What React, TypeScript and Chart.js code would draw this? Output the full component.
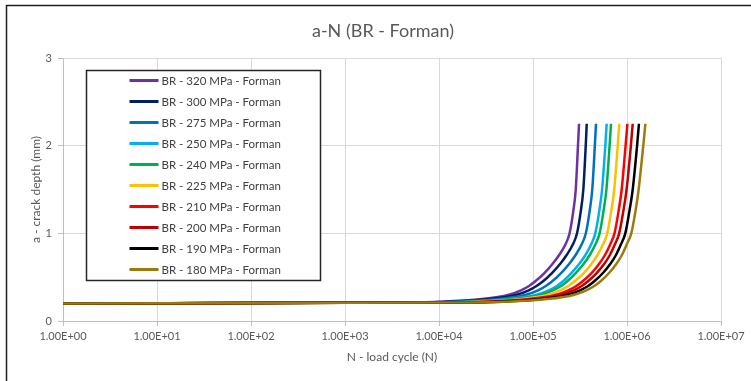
import { useEffect, useRef } from "react";
import { Chart, registerables } from "chart.js";

Chart.register(...registerables);

// Crack depth a (mm) shared by every series
const crackDepth = [0.2, 0.21, 0.22, 0.25, 0.3, 0.35, 0.4, 0.45, 0.55, 0.65, 0.75, 0.875, 1.0, 1.25, 1.5, 2.0, 2.25];

// Load cycles N reached at each crack depth, one list per stress level
const cycles320 = [1, 2.3e3, 1.0e4, 2.87e4, 5.56e4, 7.45e4, 9.07e4, 1.05e5, 1.33e5, 1.61e5, 1.89e5, 2.22e5, 2.45e5, 2.68e5, 2.85e5, 3.01e5, 3.09e5];
const cycles300 = [1, 2.78e3, 1.21e4, 3.46e4, 6.71e4, 9.0e4, 1.09e5, 1.27e5, 1.6e5, 1.94e5, 2.27e5, 2.66e5, 2.94e5, 3.22e5, 3.43e5, 3.64e5, 3.73e5];
const cycles275 = [1, 3.49e3, 1.52e4, 4.35e4, 8.42e4, 1.13e5, 1.37e5, 1.59e5, 2.0e5, 2.42e5, 2.83e5, 3.3e5, 3.65e5, 4.0e5, 4.27e5, 4.55e5, 4.68e5];
const cycles250 = [1, 4.53e3, 1.97e4, 5.65e4, 1.09e5, 1.47e5, 1.79e5, 2.07e5, 2.57e5, 3.1e5, 3.6e5, 4.16e5, 4.6e5, 5.06e5, 5.43e5, 5.88e5, 6.08e5];
const cycles240 = [1, 5.04e3, 2.19e4, 6.28e4, 1.22e5, 1.63e5, 1.99e5, 2.3e5, 2.86e5, 3.45e5, 4.0e5, 4.62e5, 5.11e5, 5.62e5, 6.04e5, 6.53e5, 6.76e5];
const cycles225 = [1, 6.02e3, 2.62e4, 7.51e4, 1.45e5, 1.95e5, 2.37e5, 2.75e5, 3.49e5, 4.18e5, 4.84e5, 5.56e5, 6.16e5, 6.79e5, 7.31e5, 7.97e5, 8.28e5];
const cycles210 = [1, 7.33e3, 3.19e4, 9.13e4, 1.77e5, 2.37e5, 2.89e5, 3.35e5, 4.22e5, 5.04e5, 5.81e5, 6.64e5, 7.36e5, 8.13e5, 8.78e5, 9.66e5, 1.01e6];
const cycles200 = [1, 8.36e3, 3.64e4, 1.04e5, 2.02e5, 2.71e5, 3.3e5, 3.82e5, 4.78e5, 5.71e5, 6.55e5, 7.44e5, 8.26e5, 9.13e5, 9.9e5, 1.1e6, 1.15e6];
const cycles190 = [1, 9.76e3, 4.24e4, 1.22e5, 2.36e5, 3.16e5, 3.85e5, 4.46e5, 5.58e5, 6.63e5, 7.61e5, 8.63e5, 9.59e5, 1.06e6, 1.15e6, 1.28e6, 1.34e6];
const cycles180 = [1, 1.14e4, 4.95e4, 1.42e5, 2.75e5, 3.69e5, 4.49e5, 5.2e5, 6.48e5, 7.69e5, 8.8e5, 9.95e5, 1.11e6, 1.23e6, 1.33e6, 1.49e6, 1.57e6];

const seriesLabels = [
  "BR - 320 MPa - Forman",
  "BR - 300 MPa - Forman",
  "BR - 275 MPa - Forman",
  "BR - 250 MPa - Forman",
  "BR - 240 MPa - Forman",
  "BR - 225 MPa - Forman",
  "BR - 210 MPa - Forman",
  "BR - 200 MPa - Forman",
  "BR - 190 MPa - Forman",
  "BR - 180 MPa - Forman",
];
const seriesCycles = [
  cycles320, cycles300, cycles275, cycles250, cycles240,
  cycles225, cycles210, cycles200, cycles190, cycles180,
];
const seriesColors = [
  "#7030A0", "#002060", "#0070C0", "#00B0F0", "#00B050",
  "#FFC000", "#FF0000", "#C00000", "#000000", "#9C7A0E",
];

const xTickValues = [1, 1e1, 1e2, 1e3, 1e4, 1e5, 1e6, 1e7];

const FONT = "Lato, 'Open Sans', sans-serif";
const TEXT = "#595959";
const GRID = "#D9D9D9";
const AXIS = "#BFBFBF";

const sciLabel = (v: number) =>
  Number(v).toExponential(2).toUpperCase().replace(/E([+-])(\d)$/, "E$10$2");

// White page, plus the dark frame along the left and top edges
const frame = {
  id: "frame",
  beforeDraw(chart: any) {
    const { ctx, width, height } = chart;
    ctx.save();
    ctx.fillStyle = "#ffffff";
    ctx.fillRect(0, 0, width, height);
    ctx.strokeStyle = "#1f1f1f";
    ctx.lineWidth = 1.5;
    ctx.beginPath();
    ctx.moveTo(6.5, height);
    ctx.lineTo(6.5, 5.5);
    ctx.lineTo(width, 5.5);
    ctx.stroke();
    ctx.restore();
  },
};

// Boxed legend inside the upper-left of the plot area
const boxLegend = {
  id: "boxLegend",
  afterDatasetsDraw(chart: any) {
    const { ctx, chartArea } = chart;
    const x0 = Math.round(chartArea.left + 23) + 0.5;
    const y0 = Math.round(chartArea.top + 12) + 0.5;
    const w = 234;
    const h = 210;
    ctx.save();
    ctx.fillStyle = "#ffffff";
    ctx.fillRect(x0, y0, w, h);
    ctx.strokeStyle = "#262626";
    ctx.lineWidth = 1.5;
    ctx.strokeRect(x0, y0, w, h);
    ctx.font = `11.5px ${FONT}`;
    ctx.textBaseline = "middle";
    ctx.textAlign = "left";
    chart.data.datasets.forEach((ds: any, i: number) => {
      const y = y0 + 10 + i * 21;
      ctx.strokeStyle = ds.borderColor;
      ctx.lineWidth = 3;
      ctx.beginPath();
      ctx.moveTo(x0 + 43, y);
      ctx.lineTo(x0 + 72, y);
      ctx.stroke();
      ctx.fillStyle = "#404040";
      ctx.fillText(ds.label, x0 + 75, y + 0.5);
    });
    ctx.restore();
  },
};

export default function App() {
  const canvasRef = useRef<HTMLCanvasElement | null>(null);

  useEffect(() => {
    const canvas = canvasRef.current;
    if (!canvas) return;

    const datasets = seriesLabels.map((label, i) => ({
      label,
      data: seriesCycles[i].map((n, k) => ({ x: n, y: crackDepth[k] })),
      borderColor: seriesColors[i],
      backgroundColor: seriesColors[i],
      borderWidth: 2.5,
      pointRadius: 0,
      fill: false,
      cubicInterpolationMode: "monotone" as const,
      order: seriesLabels.length - i,
    }));

    const chart = new Chart(canvas, {
      type: "line",
      data: { datasets },
      plugins: [frame, boxLegend],
      options: {
        responsive: false,
        animation: false,
        devicePixelRatio: 1,
        layout: { padding: { left: 15, right: 0, top: 0, bottom: 0 } },
        plugins: {
          legend: { display: false },
          tooltip: { enabled: false },
          title: {
            display: true,
            text: "a-N (BR - Forman)",
            color: TEXT,
            font: { family: FONT, size: 18, weight: "normal" },
            padding: { top: 20, bottom: 16.4 },
          },
        },
        scales: {
          x: {
            type: "logarithmic",
            min: 1,
            max: 1e7,
            afterBuildTicks: (scale: any) => {
              scale.ticks = xTickValues.map((value) => ({ value }));
            },
            afterFit: (scale: any) => {
              scale.height = 60;
              scale.paddingRight = 30;
            },
            ticks: {
              autoSkip: false,
              maxRotation: 0,
              color: TEXT,
              padding: 4,
              font: { family: FONT, size: 11 },
              callback: (v: any) => sciLabel(Number(v)),
            },
            grid: { color: GRID, tickColor: AXIS, tickLength: 5, lineWidth: 1 },
            border: { display: true, color: AXIS },
            title: {
              display: true,
              text: "N - load cycle (N)",
              color: TEXT,
              font: { family: FONT, size: 12 },
              padding: { top: 0, bottom: 17 },
            },
          },
          y: {
            type: "linear",
            min: 0,
            max: 3,
            afterFit: (scale: any) => {
              scale.width = 48;
            },
            ticks: {
              stepSize: 1,
              color: TEXT,
              padding: 6,
              font: { family: FONT, size: 11 },
            },
            grid: { color: GRID, tickColor: AXIS, tickLength: 5, lineWidth: 1 },
            border: { display: true, color: AXIS },
            title: {
              display: true,
              text: "a - crack depth (mm)",
              color: TEXT,
              font: { family: FONT, size: 12 },
              padding: { top: 14, bottom: 0 },
            },
          },
        },
      },
    });

    return () => chart.destroy();
  }, []);

  return (
    <div style={{ position: "absolute", left: 0, top: 0, width: 751, height: 381, background: "#fff" }}>
      <canvas ref={canvasRef} width={751} height={381} style={{ display: "block", width: 751, height: 381 }} />
    </div>
  );
}
